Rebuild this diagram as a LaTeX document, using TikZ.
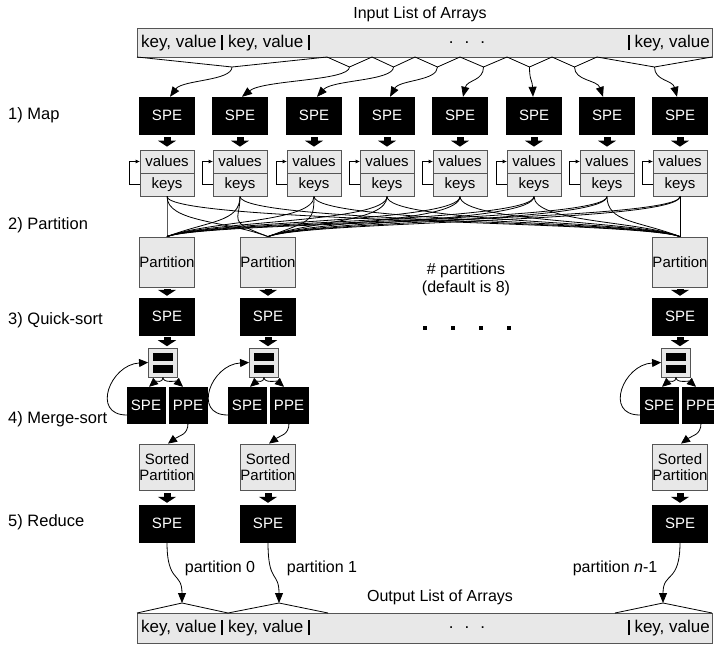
\documentclass[tikz,border=0pt]{standalone}
\usepackage{fontspec}
\setmainfont{Liberation Sans}
\usetikzlibrary{arrows.meta,calc}
\definecolor{boxgray}{HTML}{E8E8E8}
\definecolor{edgegray}{HTML}{555555}
\newcommand\kvbar{\rule[-2.5pt]{2.2pt}{15.5pt}}
\newcommand\kvdots{.\hspace{11pt}.\hspace{11pt}.}
\begin{document}
\begin{tikzpicture}[x=1pt,y=-1pt,
  lw/.style={line width=0.8pt},
  spe/.style={fill=black,draw=black,text=white,minimum width=55pt,minimum height=37pt,inner sep=0pt,font=\fontsize{15}{16}\selectfont},
  smallpe/.style={fill=black,draw=black,text=white,minimum width=38pt,minimum height=36pt,inner sep=0pt,font=\fontsize{15}{16}\selectfont},
  graybox/.style={fill=boxgray,draw=edgegray,line width=0.8pt,inner sep=0pt,font=\fontsize{15}{16.5}\selectfont},
  lbl/.style={anchor=west,font=\fontsize{16.5}{18}\selectfont,inner sep=0pt},
  txt/.style={font=\fontsize{16}{18}\selectfont,inner sep=0pt},
  bartxt/.style={font=\fontsize{17}{18}\selectfont,inner sep=0pt},
  tipa/.style={-{Triangle[length=10pt,width=8pt]}},
  mtip/.style={-{Triangle[length=9pt,width=8pt]}},
  stip/.style={-{Triangle[length=4pt,width=3.5pt]}},
  blk/.style={line width=7pt,-{Triangle[length=6pt,width=18pt]}}
]
\useasboundingbox (0,0) rectangle (714,647);

% ---------- input bar ----------
\node[txt] (title) at (420,14) {Input List of Arrays};
\node[graybox,minimum width=575pt,minimum height=29pt] (ib) at (424.5,42.5) {};
\node[bartxt,anchor=west] (ibl) at (141,43) {key, value \kvbar\ key, value \kvbar};
\node[bartxt] (ibm) at (467,43) {\kvdots};
\node[bartxt,anchor=east] (ibr) at (710,43) {\kvbar\ key, value};

% zigzag split points
\foreach \x [count=\i from 0] in {137,327,372,415,460,507,552,597,712}
  \coordinate (T\i) at (\x,57);
\foreach \x [count=\i from 0] in {232,349.5,393.5,437.5,483.5,529.5,574.5,654.5}
  \coordinate (J\i) at (\x,67);
\draw[lw] (T0) -- (J0) -- (T1) -- (J1) -- (T2) -- (J2) -- (T3) -- (J3) -- (T4)
  -- (J4) -- (T5) -- (J5) -- (T6) -- (J6) -- (T7) -- (J7) -- (T8);

% ---------- labels ----------
\node[lbl] (l1) at (8,115) {1) Map};
\node[lbl] (l2) at (8,225) {2) Partition};
\node[lbl] (l3) at (8,320) {3) Quick-sort};
\node[lbl] (l4) at (8,419) {4) Merge-sort};
\node[lbl] (l5) at (8,522) {5) Reduce};

% ---------- map row ----------
\foreach \x/\jx/\o [count=\i from 0] in {167/232/3,240/349.5/2,314/393.5/3,387/437.5/3,460/483.5/3,534/529.5/-1,607/574.5/-4,680/654.5/-3} {
  \node[spe] (s1-\i) at (\x,115.5) {SPE};
  \node[graybox,minimum width=54pt,minimum height=23pt] (v-\i) at (\x,161.5) {values};
  \node[graybox,minimum width=54pt,minimum height=23pt] (k-\i) at (\x,184.5) {keys};
  \pgfmathsetmacro\cx{\o+0.2*(\jx-\x-\o)}
  \draw[lw,tipa] (J\i) .. controls ($(J\i)+(0,14)$) and ($(s1-\i.north)+(\cx,-17)$) .. ($(s1-\i.north)+(\o,0)$);
  \draw[blk] ($(s1-\i.south)+(0,3)$) -- ($(v-\i.north)+(0,-3)$);
  \draw[lw,stip] (k-\i.west) -- ++(-10,0) |- (v-\i.west);
}

% ---------- partitions ----------
\foreach \px [count=\j] in {167,268,680} {
  \node[graybox,minimum width=55pt,minimum height=50pt] (p-\j) at (\px,262) {Partition};
}
\foreach \kx [count=\i from 0] in {167,240,314,387,460,534,607,680} {
  \foreach \px [count=\j] in {167,268,680} {
    \pgfmathsetmacro\s{sign(\kx-\px)}
    \draw[lw] (k-\i.south) .. controls ($(k-\i.south)+(0,26)$) and ($(p-\j.north)+(\s*42,-16)$) .. (p-\j.north);
  }
}

% ---------- sort / merge / reduce columns ----------
\foreach \px [count=\j] in {167,268,680} {
  \node[spe] (q-\j) at (\px,316.5) {SPE};
  \draw[blk] ($(p-\j.south)+(0,2)$) -- ($(q-\j.north)+(0,-2)$);
  \node[graybox,minimum width=29pt,minimum height=29pt] (sq-\j) at (\px-4,362.5) {};
  \fill ($(sq-\j.center)+(-10,-10)$) rectangle ($(sq-\j.center)+(10,-2)$);
  \fill ($(sq-\j.center)+(-10,2)$) rectangle ($(sq-\j.center)+(10,10)$);
  \draw[blk] ($(q-\j.south)+(0,2)$) -- ($(q-\j.south)+(0,11)$);
  \node[smallpe] (ms-\j) at (\px-21,405) {SPE};
  \node[smallpe] (mp-\j) at (\px+21,405) {PPE};
  \draw[lw,mtip] (sq-\j.south) .. controls ($(sq-\j.south)+(0,6)$) and ($(ms-\j.north)+(10,-6)$) .. ($(ms-\j.north)+(3,0)$);
  \draw[lw,mtip] (sq-\j.south) .. controls ($(sq-\j.south)+(0,6)$) and ($(mp-\j.north)+(-12,-6)$) .. ($(mp-\j.north)+(-5,0)$);
  \draw[lw,mtip] ($(ms-\j.west)+(0,10)$) .. controls ($(ms-\j.west)+(-36,10)$) and ($(sq-\j.west)+(-38,2)$) .. (sq-\j.west);
  \node[graybox,minimum width=55pt,minimum height=46pt,align=center] (sp-\j) at (\px,467) {Sorted\\Partition};
  \draw[lw,mtip] (mp-\j.south) .. controls ($(mp-\j.south)+(0,12)$) and ($(sp-\j.north)+(12,-8)$) .. ($(sp-\j.north)+(1,0)$);
  \node[spe] (r-\j) at (\px,523.5) {SPE};
  \draw[blk] ($(sp-\j.south)+(0,3)$) -- ($(r-\j.north)+(0,-2)$);
}

% ---------- middle note ----------
\node[txt] (np) at (466,270) {\# partitions};
\node[txt] (nd) at (466,288) {(default is 8)};
\foreach \x in {425,453,481,509}
  \fill (\x-2,326) rectangle (\x+2,330);

% ---------- output ----------
\node[graybox,minimum width=575pt,minimum height=30pt] (ob) at (424.5,628) {};
\node[bartxt,anchor=west] (obl) at (141,628) {key, value \kvbar\ key, value \kvbar};
\node[bartxt] (obm) at (467,628) {\kvdots};
\node[bartxt,anchor=east] (obr) at (710,628) {\kvbar\ key, value};
\node[txt] (otitle) at (440,597) {Output List of Arrays};

\coordinate (B0) at (137,613);
\coordinate (A1) at (182,603);
\coordinate (B1) at (228,613);
\coordinate (A2) at (279,603);
\coordinate (B2) at (328,613);
\coordinate (B3) at (615,613);
\coordinate (A3) at (663,603);
\coordinate (B4) at (712,613);
\draw[lw] (B0) -- (A1) -- (B1) -- (A2) -- (B2);
\draw[lw] (B3) -- (A3) -- (B4);

\foreach \j in {1,2,3}
  \draw[lw,tipa] (r-\j.south) .. controls ($(r-\j.south)+(0,42)$) and ($(A\j)+(0,-32)$) .. (A\j);

\node[txt] (pl0) at (220,568) {partition 0};
\node[txt] (pl1) at (322,568) {partition 1};
\node[txt] (pl2) at (615,568) {partition \textit{n}-1};
\end{tikzpicture}
\end{document}
